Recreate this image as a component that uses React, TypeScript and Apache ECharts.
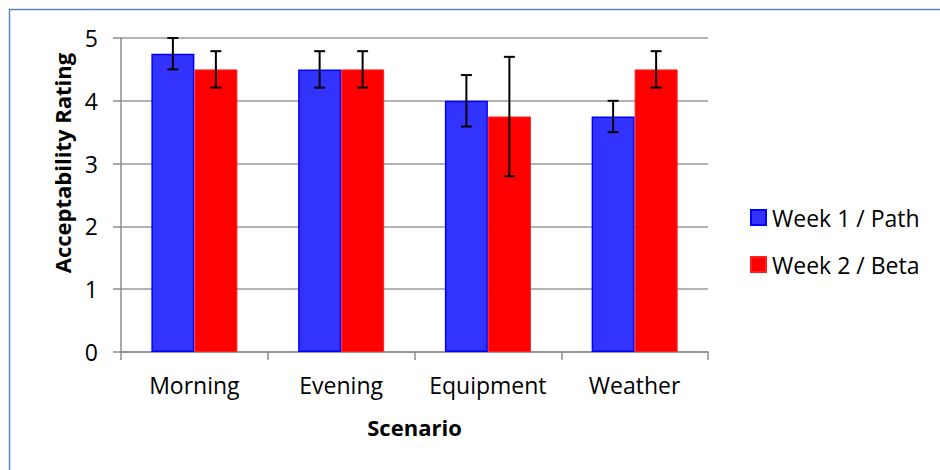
import React, { useEffect, useRef } from "react";
import * as echarts from "echarts";

const categories = ["Morning", "Evening", "Equipment", "Weather"];
const seriesNames = ["Week 1 / Path", "Week 2 / Beta"];
const week1Values = [4.75, 4.5, 4.0, 3.75];
const week2Values = [4.5, 4.5, 3.75, 4.5];
const week1Low = [4.5, 4.21, 3.59, 3.5];
const week1High = [5.0, 4.79, 4.41, 4.0];
const week2Low = [4.21, 4.21, 2.8, 4.21];
const week2High = [4.79, 4.79, 4.7, 4.79];
const yTicks = [0, 1, 2, 3, 4, 5];

const FONT = "Open Sans";
const BAR_W = 43;

function errorSeries(low: number[], high: number[], offset: number) {
  return {
    type: "custom",
    silent: true,
    z: 10,
    data: low.map((l, i) => [i, l, high[i]]),
    encode: { x: 0, y: [1, 2] },
    renderItem: (params: any, api: any) => {
      const lo = api.coord([api.value(0), api.value(1)]);
      const hi = api.coord([api.value(0), api.value(2)]);
      const cx = lo[0] + offset;
      const hw = 5.5;
      const style = { stroke: "#000", lineWidth: 2 };
      return {
        type: "group",
        children: [
          { type: "line", shape: { x1: cx, y1: lo[1], x2: cx, y2: hi[1] }, style },
          { type: "line", shape: { x1: cx - hw, y1: hi[1], x2: cx + hw, y2: hi[1] }, style },
          { type: "line", shape: { x1: cx - hw, y1: lo[1], x2: cx + hw, y2: lo[1] }, style },
        ],
      };
    },
  };
}

export default function App() {
  const ref = useRef<HTMLDivElement>(null);
  useEffect(() => {
    document.body.style.margin = "0";
    const chart = echarts.init(ref.current!, null, { renderer: "svg" });
    chart.setOption({
      animation: false,
      backgroundColor: "#fff",
      textStyle: { fontFamily: FONT },
      grid: { left: 121, right: 232, top: 38, bottom: 118 },
      graphic: [
        {
          type: "polyline",
          shape: { points: [[9.5, 470], [9.5, 9.5], [940, 9.5]] },
          style: { stroke: "#5B86C0", lineWidth: 1.5, fill: null },
        },
        {
          type: "text",
          x: 62,
          y: 163,
          rotation: Math.PI / 2,
          style: {
            text: "Acceptability Rating",
            font: `bold 22px "${FONT}"`,
            fill: "#000",
            textAlign: "center",
            textVerticalAlign: "middle",
          },
        },
      ],
      legend: {
        orient: "vertical",
        left: 745,
        top: 201,
        itemWidth: 15,
        itemHeight: 15,
        itemGap: 24,
        icon: "rect",
        textStyle: { fontSize: 23, color: "#000", fontFamily: FONT, padding: [0, 0, 0, 1] },
        data: seriesNames,
      },
      xAxis: {
        type: "category",
        data: categories,
        name: "Scenario",
        nameLocation: "middle",
        nameGap: 64,
        nameTextStyle: { fontSize: 22, fontWeight: "bold", color: "#000", fontFamily: FONT },
        axisLine: { lineStyle: { color: "#8c8c8c", width: 1.5 } },
        axisTick: { show: true, length: 8, lineStyle: { color: "#8c8c8c", width: 1.5 } },
        axisLabel: { fontSize: 23, color: "#000", margin: 21, fontFamily: FONT, interval: 0 },
      },
      yAxis: {
        type: "value",
        min: 0,
        max: 5,
        interval: 1,
        axisLine: { show: true, lineStyle: { color: "#8c8c8c", width: 1.5 } },
        axisTick: { show: true, length: 8, lineStyle: { color: "#8c8c8c", width: 1.5 } },
        axisLabel: {
          fontSize: 23,
          color: "#000",
          margin: 23,
          fontFamily: FONT,
          formatter: (v: number) => (yTicks.includes(v) ? String(v) : ""),
        },
        splitLine: { show: true, lineStyle: { color: "#9a9a9a", width: 1.5 } },
      },
      series: [
        {
          name: seriesNames[0],
          type: "bar",
          data: week1Values,
          barWidth: BAR_W,
          barGap: "0%",
          itemStyle: { color: "#3333FF", borderColor: "#0000FF", borderWidth: 1.5 },
        },
        {
          name: seriesNames[1],
          type: "bar",
          data: week2Values,
          barWidth: BAR_W,
          barGap: "0%",
          itemStyle: { color: "#FF0000", borderColor: "#FF2020", borderWidth: 1 },
        },
        errorSeries(week1Low, week1High, -BAR_W / 2),
        errorSeries(week2Low, week2High, BAR_W / 2),
      ],
    });
    return () => chart.dispose();
  }, []);
  return <div ref={ref} style={{ width: 940, height: 470 }} />;
}
